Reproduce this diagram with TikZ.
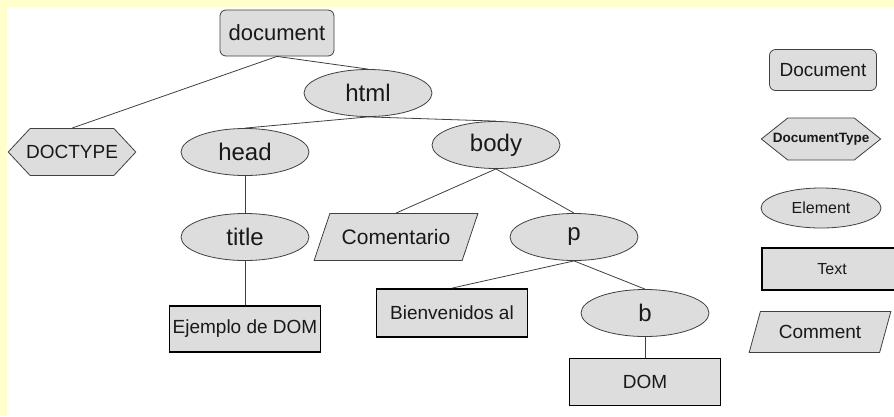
\documentclass[tikz,border=0pt]{standalone}
\usepackage{fontspec}
\setmainfont{Liberation Sans}
\usetikzlibrary{shapes.geometric,shapes.symbols}
\definecolor{bgyellow}{HTML}{FFFFCC}
\definecolor{nodefill}{HTML}{DDDDDD}
\definecolor{edgegray}{HTML}{404040}
\newcommand{\fsz}[1]{\fontsize{#1}{#1}\selectfont}

\begin{document}
\begin{tikzpicture}[x=1pt,y=-1pt,
    every node/.style={fill=nodefill,draw=edgegray,line width=0.8pt,inner sep=0pt,text=black!90},
    docbox/.style={rectangle,rounded corners=6pt},
    elem/.style={ellipse,minimum width=128pt,minimum height=47pt,font=\fsz{24}},
    doctype/.style={signal,signal to=west and east,signal pointer angle=94},
    textbox/.style={rectangle,draw=black,line width=1.8pt,minimum width=151pt,minimum height=47pt,font=\fsz{19}},
    commentbox/.style={trapezium,trapezium left angle=50,trapezium right angle=130,trapezium stretches=true},
    edge/.style={draw=edgegray,line width=0.8pt}]
        % Background
        \fill[white] (0,0) rectangle (894,416);
        \fill[bgyellow] (0,0) rectangle (7,416);
        \fill[bgyellow] (0,0) rectangle (894,7);
        \useasboundingbox (0,0) rectangle (894,416);

        % Tree
        \node [docbox,minimum width=114pt,minimum height=46pt,font=\fsz{22}] (document) at (277,33) {document};
        \node [elem] (html) at (368,93) {html};
        \node [doctype,minimum height=47pt,inner xsep=-4pt,font=\fsz{19}] (doctype) at (72,152) {DOCTYPE};
        \node [elem] (head) at (245,152) {head};
        \node [elem] (body) at (496,145) {body};
        \node [elem] (title) at (245,237) {title};
        \node [commentbox,minimum width=164pt,minimum height=47pt,font=\fsz{21}] (comentario) at (396,237) {Comentario};
        \node [elem] (p) at (574,237) {p};
        \node [textbox,minimum height=46pt] (ejemplo) at (245,329) {Ejemplo de DOM};
        \node [textbox,minimum height=48pt] (bienvenidos) at (452,313) {Bienvenidos al};
        \node [elem] (b) at (645,313) {b};
        \node [textbox] (dom) at (645,382) {DOM};

        % Legend
        \node [docbox,minimum width=107pt,minimum height=41pt,font=\fsz{19}] (legdoc) at (823,70) {Document};
        \node [doctype,minimum height=42pt,inner xsep=-15pt,signal pointer angle=77,font=\bfseries\fsz{13.5}] (legtype) at (821,139) {DocumentType};
        \node [elem,minimum width=120pt,minimum height=40pt,font=\fsz{16}] (legelem) at (821,208) {Element};
        \node [textbox,minimum width=140pt,minimum height=42pt,font=\fsz{16}] (legtext) at (832,269) {Text};
        \node [commentbox,trapezium left angle=60,trapezium right angle=120,minimum width=142pt,minimum height=41pt,font=\fsz{19}] (legcomment) at (820,332) {Comment};

        % Edges
        \draw[edge] (document.south) -- (doctype.north);
        \draw[edge] (document.south) -- (html.north);
        \draw[edge] (html.south) -- (head.north);
        \draw[edge] (html.south) -- (body.north);
        \draw[edge] (head.south) -- (title.north);
        \draw[edge] (title.south) -- (ejemplo.north);
        \draw[edge] (body.south) -- (comentario.north);
        \draw[edge] (body.south) -- (p.north);
        \draw[edge] (p.south) -- (bienvenidos.north);
        \draw[edge] (p.south) -- (b.north);
        \draw[edge] (b.south) -- (dom.north);
    \end{tikzpicture}
\end{document}
